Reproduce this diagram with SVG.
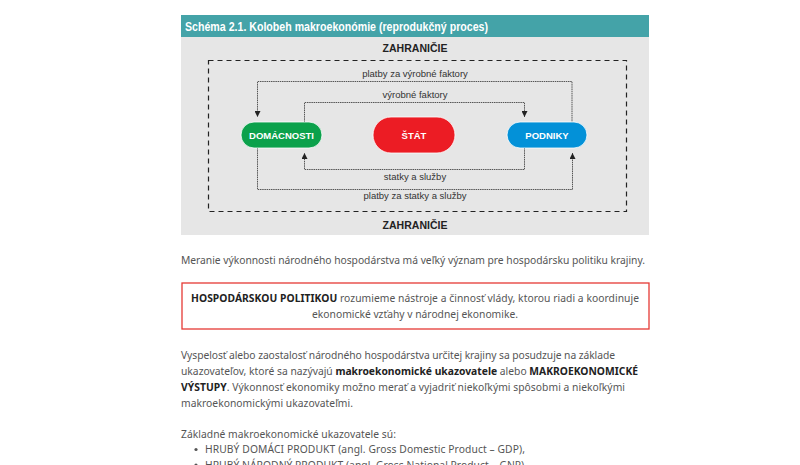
<svg xmlns="http://www.w3.org/2000/svg" width="800" height="465" viewBox="0 0 800 465">
<defs>
<style>
.lbl{font-family:"Liberation Sans",Arial,sans-serif;font-size:9.5px;fill:#333;text-anchor:middle}
.zah{font-family:"Liberation Sans",Arial,sans-serif;font-size:10.5px;font-weight:bold;fill:#222;text-anchor:middle}
.node{font-family:"Liberation Sans",Arial,sans-serif;font-size:9.5px;font-weight:bold;fill:#fff;text-anchor:middle}
.con{fill:none;stroke:#555;stroke-width:1;stroke-dasharray:1.5 0.7}
.body{font-family:"Noto Sans","Open Sans",sans-serif;font-size:10.3px;fill:#555}
.b{font-weight:bold;fill:#222}
</style>
<marker id="ah" viewBox="0 0 10 10" refX="10" refY="5" markerWidth="6" markerHeight="6" orient="auto" markerUnits="userSpaceOnUse">
<path d="M0,0 L10,5 L0,10 z" fill="#222"/>
</marker>
</defs>
<rect width="800" height="465" fill="#fff"/>
<rect x="181" y="15" width="468" height="22" fill="#44A3A8"/>
<text x="185" y="31" font-family="'Liberation Sans',Arial,sans-serif" font-size="12.5" font-weight="bold" fill="#fff" textLength="303" lengthAdjust="spacingAndGlyphs">Schéma 2.1. Kolobeh makroekonómie (reprodukčný proces)</text>
<rect x="181" y="37" width="468" height="198" fill="#E6E6E6"/>
<text class="zah" x="415" y="52" textLength="65">ZAHRANIČIE</text>
<rect x="208.5" y="60.5" width="418" height="151" fill="none" stroke="#222" stroke-width="1.2" stroke-dasharray="5 4"/>
<text class="zah" x="415" y="229" textLength="65">ZAHRANIČIE</text>
<g id="connectors">
<path class="con" d="M572,123 V81.5 H257.5 V117" marker-end="url(#ah)"/>
<text class="lbl" x="415" y="77">platby za výrobné faktory</text>
<path class="con" d="M304.5,122 V102.5 H524.5 V117" marker-end="url(#ah)"/>
<text class="lbl" x="415" y="98">výrobné faktory</text>
<path class="con" d="M524.5,148 V169.5 H304.5 V153" marker-end="url(#ah)"/>
<text class="lbl" x="415" y="180">statky a služby</text>
<path class="con" d="M257.5,148 V189.5 H572.5 V153" marker-end="url(#ah)"/>
<text class="lbl" x="415" y="199">platby za statky a služby</text>
</g>
<g id="domacnosti">
<rect x="241" y="122" width="81" height="26" rx="13" fill="#0BA14B" stroke="#fff" stroke-width="0.8"/>
<text class="node" x="281.5" y="138.5">DOMÁCNOSTI</text>
</g>
<g id="stat">
<rect x="373" y="117" width="82" height="36" rx="18" fill="#EC1C24" stroke="#fff" stroke-width="0.8"/>
<text class="node" x="414" y="138.5">ŠTÁT</text>
</g>
<g id="podniky">
<rect x="507" y="122" width="80" height="26" rx="13" fill="#0391D8" stroke="#fff" stroke-width="0.8"/>
<text class="node" x="547" y="138.5">PODNIKY</text>
</g>
<text class="body" x="181" y="264" textLength="464">Meranie výkonnosti národného hospodárstva má veľký význam pre hospodársku politiku krajiny.</text>
<rect x="182" y="283" width="467" height="46" fill="none" stroke="#E53935" stroke-width="1.3"/>
<text class="body" x="191" y="302" textLength="448"><tspan class="b">HOSPODÁRSKOU POLITIKOU</tspan> rozumieme nástroje a činnosť vlády, ktorou riadi a koordinuje</text>
<text class="body" x="312" y="318" textLength="206">ekonomické vzťahy v národnej ekonomike.</text>
<text class="body" x="181" y="359" textLength="434">Vyspelosť alebo zaostalosť národného hospodárstva určitej krajiny sa posudzuje na základe</text>
<text class="body" x="181" y="375" textLength="457">ukazovateľov, ktoré sa nazývajú <tspan class="b">makroekonomické ukazovatele</tspan> alebo <tspan class="b">MAKROEKONOMICKÉ</tspan></text>
<text class="body" x="181" y="391" textLength="444"><tspan class="b">VÝSTUPY</tspan>. Výkonnosť ekonomiky možno merať a vyjadriť niekoľkými spôsobmi a niekoľkými</text>
<text class="body" x="181" y="407" textLength="172">makroekonomickými ukazovateľmi.</text>
<text class="body" x="181" y="438" textLength="215">Základné makroekonomické ukazovatele sú:</text>
<circle cx="196" cy="449.5" r="1.6" fill="#555"/>
<text class="body" x="205" y="453" textLength="320">HRUBÝ DOMÁCI PRODUKT (angl. Gross Domestic Product – GDP),</text>
<circle cx="196" cy="465" r="1.6" fill="#555"/>
<text class="body" x="205" y="468.5" textLength="322">HRUBÝ NÁRODNÝ PRODUKT (angl. Gross National Product – GNP),</text>
</svg>
